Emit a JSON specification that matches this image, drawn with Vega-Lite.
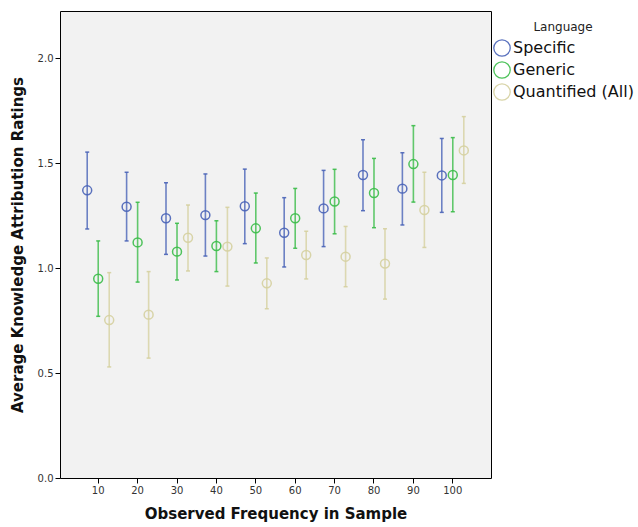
{
  "$schema": "https://vega.github.io/schema/vega-lite/v6.json",
  "width": 431,
  "height": 467,
  "autosize": {"type": "none"},
  "padding": {"left": 60, "top": 11, "right": 147, "bottom": 49},
  "background": "white",
  "config": {
    "font": "DejaVu Sans",
    "view": {"fill": "#f2f2f2", "stroke": "#000000", "strokeWidth": 1},
    "axis": {"grid": false, "domainColor": "#000000", "tickColor": "#000000", "labelColor": "#333333", "labelFontSize": 10, "titleFontSize": 15, "titleFontWeight": "bold", "titleColor": "#111111", "tickSize": 5}
  },
  "data": {
    "values": [
      {"freq": 10, "lang": "Specific", "mean": 1.370, "lo": 1.186, "hi": 1.552},
      {"freq": 10, "lang": "Generic", "mean": 0.949, "lo": 0.770, "hi": 1.129},
      {"freq": 10, "lang": "Quantified (All)", "mean": 0.752, "lo": 0.529, "hi": 0.978},
      {"freq": 20, "lang": "Specific", "mean": 1.292, "lo": 1.129, "hi": 1.456},
      {"freq": 20, "lang": "Generic", "mean": 1.122, "lo": 0.933, "hi": 1.313},
      {"freq": 20, "lang": "Quantified (All)", "mean": 0.778, "lo": 0.571, "hi": 0.983},
      {"freq": 30, "lang": "Specific", "mean": 1.237, "lo": 1.065, "hi": 1.406},
      {"freq": 30, "lang": "Generic", "mean": 1.078, "lo": 0.943, "hi": 1.213},
      {"freq": 30, "lang": "Quantified (All)", "mean": 1.144, "lo": 0.986, "hi": 1.300},
      {"freq": 40, "lang": "Specific", "mean": 1.252, "lo": 1.057, "hi": 1.448},
      {"freq": 40, "lang": "Generic", "mean": 1.105, "lo": 0.983, "hi": 1.225},
      {"freq": 40, "lang": "Quantified (All)", "mean": 1.102, "lo": 0.914, "hi": 1.289},
      {"freq": 50, "lang": "Specific", "mean": 1.294, "lo": 1.116, "hi": 1.471},
      {"freq": 50, "lang": "Generic", "mean": 1.189, "lo": 1.024, "hi": 1.357},
      {"freq": 50, "lang": "Quantified (All)", "mean": 0.927, "lo": 0.806, "hi": 1.048},
      {"freq": 60, "lang": "Specific", "mean": 1.168, "lo": 1.005, "hi": 1.335},
      {"freq": 60, "lang": "Generic", "mean": 1.237, "lo": 1.094, "hi": 1.379},
      {"freq": 60, "lang": "Quantified (All)", "mean": 1.062, "lo": 0.948, "hi": 1.175},
      {"freq": 70, "lang": "Specific", "mean": 1.284, "lo": 1.102, "hi": 1.465},
      {"freq": 70, "lang": "Generic", "mean": 1.317, "lo": 1.163, "hi": 1.470},
      {"freq": 70, "lang": "Quantified (All)", "mean": 1.054, "lo": 0.911, "hi": 1.198},
      {"freq": 80, "lang": "Specific", "mean": 1.443, "lo": 1.273, "hi": 1.611},
      {"freq": 80, "lang": "Generic", "mean": 1.357, "lo": 1.192, "hi": 1.522},
      {"freq": 80, "lang": "Quantified (All)", "mean": 1.021, "lo": 0.852, "hi": 1.187},
      {"freq": 90, "lang": "Specific", "mean": 1.378, "lo": 1.205, "hi": 1.549},
      {"freq": 90, "lang": "Generic", "mean": 1.495, "lo": 1.314, "hi": 1.678},
      {"freq": 90, "lang": "Quantified (All)", "mean": 1.276, "lo": 1.098, "hi": 1.456},
      {"freq": 100, "lang": "Specific", "mean": 1.441, "lo": 1.265, "hi": 1.617},
      {"freq": 100, "lang": "Generic", "mean": 1.443, "lo": 1.268, "hi": 1.621},
      {"freq": 100, "lang": "Quantified (All)", "mean": 1.560, "lo": 1.403, "hi": 1.721}
    ]
  },
  "encoding": {
    "x": {
      "field": "freq", "type": "ordinal",
      "scale": {"paddingInner": 0, "paddingOuter": 0.47},
      "axis": {"title": "Observed Frequency in Sample", "labelAngle": 0, "titlePadding": 11, "domain": false}
    },
    "xOffset": {
      "field": "lang", "type": "nominal",
      "scale": {"domain": ["Specific", "Generic", "Quantified (All)"], "paddingInner": 0, "paddingOuter": 0.29}
    },
    "color": {
      "field": "lang", "type": "nominal",
      "scale": {"domain": ["Specific", "Generic", "Quantified (All)"], "range": ["#4a64b8", "#3cbd4a", "#d6d1a0"]},
      "legend": {
        "title": "Language",
        "orient": "none",
        "legendX": 433,
        "legendY": 11,
        "padding": 0,
        "titleFontSize": 12,
        "titleFontWeight": "normal",
        "titleColor": "#222222",
        "titleAnchor": "middle",
        "titlePadding": 5,
        "labelFontSize": 16,
        "labelColor": "#111111",
        "labelOffset": 2,
        "symbolType": "circle",
        "symbolSize": 270,
        "symbolStrokeWidth": 1.3,
        "symbolFillColor": "transparent",
        "rowPadding": 0
      }
    }
  },
  "layer": [
    {
      "mark": {"type": "point", "shape": "circle", "filled": false, "size": 80, "strokeWidth": 1.5, "opacity": 0.9},
      "encoding": {"y": {"field": "mean", "type": "quantitative", "scale": {"domain": [0, 2.224], "nice": false, "zero": false},
          "axis": {"title": "Average Knowledge Attribution Ratings", "values": [0, 0.5, 1.0, 1.5, 2.0], "format": ".1f", "titlePadding": 12, "domain": false}}}
    },
    {
      "mark": {"type": "rule", "strokeWidth": 1.6, "opacity": 0.8},
      "encoding": {
        "y": {"field": "lo", "type": "quantitative"},
        "y2": {"field": "hi"}
      }
    },
    {
      "mark": {"type": "point", "shape": "M-1,0L1,0", "filled": false, "size": 16, "strokeWidth": 1.5, "opacity": 0.9},
      "encoding": {"y": {"field": "lo", "type": "quantitative"}}
    },
    {
      "mark": {"type": "point", "shape": "M-1,0L1,0", "filled": false, "size": 16, "strokeWidth": 1.5, "opacity": 0.9},
      "encoding": {"y": {"field": "hi", "type": "quantitative"}}
    }
  ]
}
